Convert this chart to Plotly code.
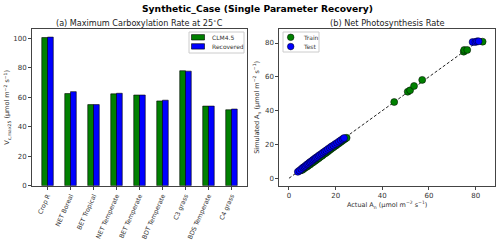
import plotly.graph_objects as go

categories = ["Crop R", "NET Boreal", "BET Tropical", "NET Temperate", "BET Temperate",
              "BDT Temperate", "C3 grass", "BDS Temperate", "C4 grass"]
clm45 = [100.5, 62.5, 55.0, 62.3, 61.5, 57.5, 78.0, 54.0, 51.5]
recovered = [100.8, 63.8, 55.0, 62.7, 61.5, 58.0, 77.7, 54.0, 52.0]

train_actual = [5.0, 5.8, 6.5, 7.2, 7.8, 8.3, 8.9, 9.5, 10.1, 10.6, 11.2, 11.8, 12.3, 12.9,
                13.5, 14.2, 14.8, 15.5, 16.1, 16.8, 17.4, 18.0, 18.7, 19.3, 20.0, 20.6,
                21.3, 22.0, 22.6, 23.3, 24.0, 24.7,
                45.1, 50.9, 51.9, 53.6, 57.1, 74.9, 75.1, 76.4, 83.0]
train_sim = [4.6, 5.0, 5.8, 6.5, 6.9, 7.6, 8.0, 8.7, 9.3, 9.7, 10.4, 10.9, 11.6, 12.0,
             12.8, 13.3, 14.1, 14.7, 15.3, 16.0, 16.7, 17.3, 18.0, 18.6, 19.3, 19.9,
             20.6, 21.3, 21.9, 22.6, 23.3, 23.9,
             45.1, 51.2, 52.0, 54.6, 58.2, 74.9, 75.9, 75.9, 80.8]
test_actual = [3.8, 4.5, 5.3, 6.0, 6.6, 7.1, 7.7, 8.2, 8.8, 9.3, 9.9, 10.4, 11.0, 11.5,
               12.1, 12.7, 13.3, 14.0, 14.6, 15.3, 16.0, 16.7, 17.5, 18.2, 19.0, 19.8,
               20.6, 21.4, 22.2, 23.0, 23.6,
               78.7, 79.9, 80.6, 81.3]
test_sim = [3.8, 4.6, 5.5, 6.3, 6.8, 7.4, 8.1, 8.6, 9.3, 9.8, 10.4, 11.0, 11.5, 12.1,
            12.6, 13.3, 13.9, 14.5, 15.2, 15.9, 16.5, 17.3, 18.0, 18.8, 19.4, 20.2,
            20.9, 21.7, 22.5, 23.2, 23.8,
            80.6, 80.6, 81.0, 81.0]
one_to_one = [0, 83]

bar_names = ["CLM4.5", "Recovered"]
bar_colors = ["green", "blue"]
scatter_names = ["Train", "Test"]
scatter_colors = ["green", "blue"]

font_family = "DejaVu Sans"
fig = go.Figure()

idx = list(range(len(categories)))
fig.add_trace(go.Bar(x=idx, y=clm45, name=bar_names[0], width=0.25, offset=-0.25,
                     marker=dict(color=bar_colors[0], line=dict(color="black", width=0.6)),
                     xaxis="x", yaxis="y"))
fig.add_trace(go.Bar(x=idx, y=recovered, name=bar_names[1], width=0.25, offset=0.0,
                     marker=dict(color=bar_colors[1], line=dict(color="black", width=0.6)),
                     xaxis="x", yaxis="y"))

fig.add_trace(go.Scatter(x=one_to_one, y=one_to_one, mode="lines",
                         line=dict(color="#222", dash="3px,2px", width=1),
                         xaxis="x2", yaxis="y2"))
fig.add_trace(go.Scatter(x=train_actual, y=train_sim, mode="markers", name=scatter_names[0],
                         marker=dict(color=scatter_colors[0], size=7, line=dict(color="black", width=0.5)),
                         xaxis="x2", yaxis="y2"))
fig.add_trace(go.Scatter(x=test_actual, y=test_sim, mode="markers", name=scatter_names[1],
                         marker=dict(color=scatter_colors[1], size=7, line=dict(color="black", width=0.5)),
                         xaxis="x2", yaxis="y2"))

W, H = 500, 243
def fx(px): return px / W
def fy(py): return 1 - py / H

axis_common = dict(showline=True, linecolor="#444", linewidth=1, mirror=True,
                   ticks="outside", ticklen=3, tickcolor="#444", showgrid=False,
                   zeroline=False, automargin=False,
                   tickfont=dict(size=7, color="#333", family=font_family))

shapes = []
annotations = [
    dict(text="<b>Synthetic_Case (Single Parameter Recovery)</b>", x=fx(257), y=fy(9),
         xref="paper", yref="paper", showarrow=False, xanchor="center", yanchor="middle",
         font=dict(size=9.2, color="black", family=font_family)),
    dict(text="(a) Maximum Carboxylation Rate at 25<sup>∘</sup>C", x=fx(139.5), y=fy(23),
         xref="paper", yref="paper", showarrow=False, xanchor="center", yanchor="middle",
         font=dict(size=8.1, color="#222", family=font_family)),
    dict(text="(b) Net Photosynthesis Rate", x=fx(387), y=fy(23),
         xref="paper", yref="paper", showarrow=False, xanchor="center", yanchor="middle",
         font=dict(size=8.2, color="#222", family=font_family)),
]

# legend (a): box and patches
shapes.append(dict(type="rect", xref="paper", yref="paper", x0=fx(189), x1=fx(244),
                   y0=fy(53), y1=fy(32), line=dict(color="#ccc", width=1), fillcolor="white"))
for i, (nm, col) in enumerate(zip(bar_names, bar_colors)):
    yc = 37.3 + i * 9.1
    shapes.append(dict(type="rect", xref="paper", yref="paper", x0=fx(191.5), x1=fx(204.5),
                       y0=fy(yc + 2.7), y1=fy(yc - 2.7), line=dict(color="black", width=0.6),
                       fillcolor=col))
    annotations.append(dict(text=nm, x=fx(209.5), y=fy(yc), xref="paper", yref="paper",
                            showarrow=False, xanchor="left", yanchor="middle",
                            font=dict(size=6, color="#333", family=font_family)))

# legend (b)
shapes.append(dict(type="rect", xref="paper", yref="paper", x0=fx(283), x1=fx(319),
                   y0=fy(52), y1=fy(32), line=dict(color="#ccc", width=1), fillcolor="white"))
for i, (nm, col) in enumerate(zip(scatter_names, scatter_colors)):
    yc = 37.3 + i * 9.3
    r = 3.3
    shapes.append(dict(type="circle", xref="paper", yref="paper", x0=fx(290.7 - r), x1=fx(290.7 + r),
                       y0=fy(yc + r), y1=fy(yc - r), line=dict(color="black", width=0.5),
                       fillcolor=col))
    annotations.append(dict(text=nm, x=fx(300.5), y=fy(yc), xref="paper", yref="paper",
                            showarrow=False, xanchor="left", yanchor="middle",
                            font=dict(size=6, color="#333", family=font_family)))

fig.update_layout(
    width=W, height=H, margin=dict(l=0, r=0, t=0, b=0, autoexpand=False),
    plot_bgcolor="white", paper_bgcolor="white",
    font=dict(family=font_family, color="#333"),
    showlegend=False,
    xaxis=dict(domain=[fx(32), fx(247)], anchor="y", range=[-0.675, 8.675],
               tickmode="array", tickvals=idx, ticktext=categories, tickangle=-66,
               **{**axis_common, "tickfont": dict(size=6.3, color="#333", family=font_family)}),
    yaxis=dict(domain=[fy(185.7), fy(29)], anchor="x", range=[0, 106.3],
               tickvals=[0, 20, 40, 60, 80, 100],
               title=dict(text="V<sub>c,max25</sub> (μmol m<sup>−2</sup> s<sup>−1</sup>)",
                          font=dict(size=6.5, color="#333"), standoff=2),
               **axis_common),
    xaxis2=dict(domain=[fx(279.3), fx(495)], anchor="y2", range=[-4.15, 88.3],
                tickvals=[0, 20, 40, 60, 80],
                title=dict(text="Actual A<sub>n</sub> (μmol m<sup>−2</sup> s<sup>−1</sup>)",
                           font=dict(size=6.5, color="#333"), standoff=3),
                **axis_common),
    yaxis2=dict(domain=[fy(185.7), fy(29)], anchor="x2", range=[-4.4, 88.3],
                tickvals=[0, 20, 40, 60, 80],
                title=dict(text="Simulated A<sub>n</sub> (μmol m<sup>−2</sup> s<sup>−1</sup>)",
                           font=dict(size=6.5, color="#333"), standoff=4),
                **axis_common),
    shapes=shapes,
    annotations=annotations,
)

fig.write_html("out.html", config={"displayModeBar": False, "staticPlot": True},
               post_script="document.body.style.margin='0';document.body.style.overflow='hidden';")
